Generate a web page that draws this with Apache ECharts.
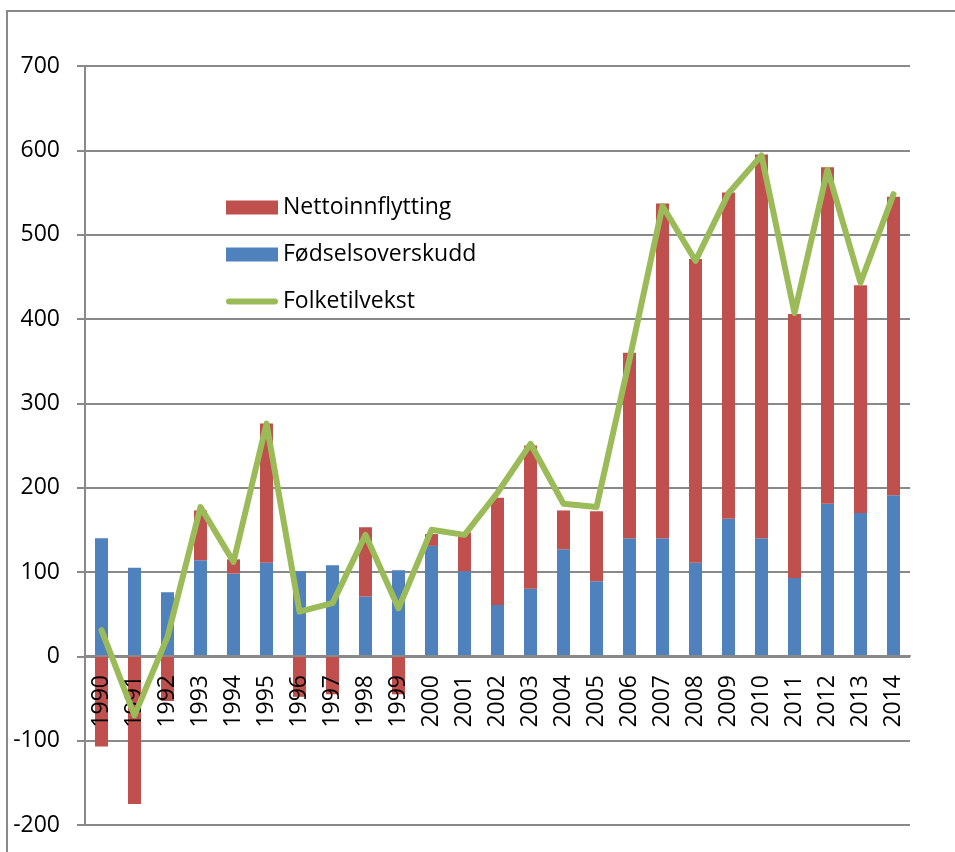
<!DOCTYPE html>
<html>
<head>
<meta charset="utf-8">
<title>Folketilvekst 1990-2014</title>
<script src="https://cdn.jsdelivr.net/npm/echarts@6/dist/echarts.min.js"></script>
<style>
    html, body { margin: 0; padding: 0; background: #fff; }
    #chart { width: 955px; height: 852px; }
</style>
</head>
<body>
<div id="chart"></div>
<script>
var years = ['1990', '1991', '1992', '1993', '1994', '1995', '1996', '1997', '1998', '1999',
    '2000', '2001', '2002', '2003', '2004', '2005', '2006', '2007', '2008', '2009',
    '2010', '2011', '2012', '2013', '2014'];
// fødselsoverskudd (blå)
var fodsel = [140, 105, 76, 114, 98, 111, 101, 108, 71, 102,
    131, 101, 61, 80, 127, 89, 140, 140, 111, 163,
    140, 93, 181, 170, 191];
// nettoinnflytting (rød)
var netto = [-107, -175, -53, 59, 17, 165, -48, -45, 82, -45,
    14, 46, 127, 170, 46, 83, 220, 397, 360, 387,
    455, 313, 399, 270, 354];
// folketilvekst (grønn linje)
var tilvekst = [31, -70, 23, 177, 112, 276, 53, 63, 144, 57,
    150, 144, 194, 252, 181, 177, 352, 534, 469, 549,
    594, 407, 577, 443, 548];

var yMin = -200, yMax = 700;
var gray = '#898989';
var font = 'Open Sans';

// plot area
var gTop = 66, gBottom = 27, H = 852;
var plotH = H - gTop - gBottom;
// x-aksen skal ligge på 0 (onZero virker ikke her), flytt den opp
var zeroOffset = -Math.round(plotH * (0 - yMin) / (yMax - yMin));

var myChart = echarts.init(document.getElementById('chart'));
myChart.setOption({
    animation: false,
    textStyle: { fontFamily: font },
    graphic: [{
        type: 'rect',
        shape: { x: 7, y: 11, width: 1200, height: 1200 },
        style: { fill: 'none', stroke: gray, lineWidth: 2 },
        silent: true
    }],
    grid: { left: 85, right: 45, top: gTop, bottom: gBottom, containLabel: false, outerBoundsMode: 'none' },
    legend: {
        orient: 'vertical',
        left: 221,
        top: 191,
        itemWidth: 52,
        itemHeight: 14,
        itemGap: 24,
        textStyle: { fontSize: 23, color: '#000', fontFamily: font },
        data: [
            { name: 'Nettoinnflytting', icon: 'rect' },
            { name: 'Fødselsoverskudd', icon: 'rect' },
            { name: 'Folketilvekst', icon: 'path://M3,0 L49,0 A3,3 0 0 1 49,6 L3,6 A3,3 0 0 1 3,0 Z' }
        ]
    },
    xAxis: {
        type: 'category',
        data: years,
        position: 'bottom',
        offset: zeroOffset,
        z: 3,
        axisLine: { onZero: false, lineStyle: { color: gray, width: 2 } },
        axisTick: { length: 8, lineStyle: { color: gray, width: 2 } },
        axisLabel: { rotate: 90, margin: 19, fontSize: 23, color: '#000', fontFamily: font }
    },
    yAxis: {
        type: 'value',
        min: yMin,
        max: yMax,
        interval: 100,
        axisLine: { show: true, lineStyle: { color: gray, width: 2 } },
        axisTick: { show: true, length: 8, lineStyle: { color: gray, width: 2 } },
        axisLabel: { margin: 25, fontSize: 23, color: '#000', fontFamily: font },
        splitLine: { lineStyle: { color: gray, width: 2 } }
    },
    series: [
        {
            name: 'Fødselsoverskudd',
            type: 'bar',
            stack: 'tot',
            barWidth: 13,
            itemStyle: { color: '#4f81bd' },
            data: fodsel
        },
        {
            name: 'Nettoinnflytting',
            type: 'bar',
            stack: 'tot',
            barWidth: 13,
            itemStyle: { color: '#c0504d' },
            data: netto
        },
        {
            name: 'Folketilvekst',
            type: 'line',
            symbol: 'none',
            z: 5,
            lineStyle: { color: '#9bbb59', width: 6, cap: 'round', join: 'round' },
            itemStyle: { color: '#9bbb59' },
            data: tilvekst
        }
    ]
});
</script>
</body>
</html>
